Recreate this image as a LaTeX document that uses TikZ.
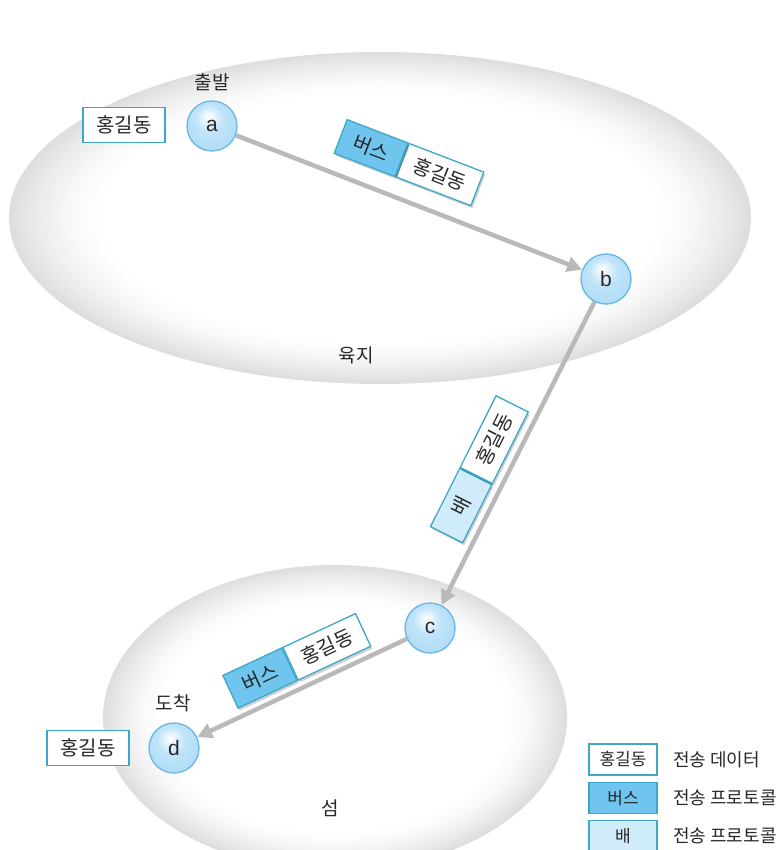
\documentclass[tikz,border=0pt]{standalone}
\usepackage{fontspec}
\setmainfont{Noto Sans CJK KR}
\newfontfamily\latinsans{Liberation Sans}
\usetikzlibrary{arrows.meta,shadows}
\definecolor{boxline}{RGB}{60,168,200}
\definecolor{busfill}{RGB}{112,197,238}
\definecolor{shipfill}{RGB}{208,236,250}
\definecolor{ballout}{RGB}{150,210,245}
\definecolor{ballline}{RGB}{105,182,228}
\definecolor{flowgray}{RGB}{185,185,185}
\definecolor{txt}{RGB}{40,40,40}
\pgfdeclareradialshading{bubble}{\pgfpoint{-4bp}{10bp}}{color(0bp)=(white); color(14bp)=(white!40!ballout); color(50bp)=(ballout)}
\tikzset{
  station/.style={circle, minimum size=50pt, inner sep=0pt, shading=bubble, draw=ballline, line width=1.3pt, font=\latinsans\fontsize{21}{23}\selectfont, text=txt},
  flow/.style={draw=flowgray, line width=4.5pt, -{Triangle[length=15pt,width=15pt]}},
  pshadow/.style={drop shadow={shadow xshift=1.5pt, shadow yshift=-2.5pt, opacity=0.18, fill=black}},
  databox/.style={draw=boxline, line width=1.3pt, fill=white, inner sep=0pt, minimum height=36pt, minimum width=80pt, font=\fontsize{20}{22}\selectfont, text=txt},
  busbox/.style={draw=boxline, line width=1.3pt, fill=busfill, inner sep=0pt, minimum height=36pt, minimum width=65pt, font=\fontsize{20}{22}\selectfont, text=txt},
  shipbox/.style={draw=boxline, line width=1.3pt, fill=shipfill, inner sep=0pt, minimum height=36pt, minimum width=65pt, font=\fontsize{20}{22}\selectfont, text=txt},
  legbox/.style={draw=boxline, line width=1.3pt, inner sep=0pt, minimum height=31pt, minimum width=68pt, font=\fontsize{17}{19}\selectfont, text=txt},
  plain/.style={font=\fontsize{19}{21}\selectfont, text=txt, inner sep=0pt},
}
\begin{document}
\begin{tikzpicture}[x=1pt,y=-1pt]
\useasboundingbox[fill=white] (0,0) rectangle (782,850);
% regions: soft gray glow ellipses
\foreach \i [evaluate=\i as \s using 1-0.0085*\i, evaluate=\i as \g using 13*(1-\i/30)*sqrt(1-\i/30)] in {0,...,30}{
  \fill[black!\g!white] (380,218) ellipse [x radius=\s*371pt, y radius=\s*166pt];
  \fill[black!\g!white] (335,718) ellipse [x radius=\s*232pt, y radius=\s*153pt];
}
\node[plain] (land) at (356,355) {육지};
\node[plain] (isle) at (330,808) {섬};
% stations
\node[station] (a) at (212,126) {a};
\node[station] (b) at (606,279) {b};
\node[station] (c) at (430,628) {c};
\node[station] (d) at (174,748) {d};
\node[plain] (start) at (212,82) {출발};
\node[plain] (arrive) at (173,703) {도착};
\node[databox, minimum width=82pt, minimum height=35pt] (srcdata) at (124,125) {홍길동};
\node[databox, minimum width=82pt, minimum height=35pt] (dstdata) at (88,748) {홍길동};
% flows
\draw[flow] (a) -- (b);
\draw[flow] (b) -- (c);
\draw[flow] (c) -- (d);
% packets
\coordinate (j1) at (402,160);
\node[databox, pshadow, rotate=-21, anchor=west] (p1d) at (j1) {홍길동};
\node[busbox, pshadow, rotate=-21, anchor=east] (p1h) at (j1) {버스};
\coordinate (j2) at (476,476);
\node[shipbox, pshadow, rotate=63.4, anchor=east] (p2h) at (j2) {배};
\node[databox, pshadow, rotate=63.4, anchor=west] (p2d) at (j2) {홍길동};
\coordinate (j3) at (290,664);
\node[busbox, pshadow, rotate=25, anchor=east] (p3h) at (j3) {버스};
\node[databox, pshadow, rotate=25, anchor=west] (p3d) at (j3) {홍길동};
% legend
\node[legbox, fill=white] (l1) at (623,759.5) {홍길동};
\node[legbox, fill=busfill] (l2) at (623,798) {버스};
\node[legbox, fill=shipfill] (l3) at (623,836) {배};
\node[plain, anchor=west, font=\fontsize{18}{20}\selectfont] (t1) at (673,759.5) {전송 데이터};
\node[plain, anchor=west, font=\fontsize{18}{20}\selectfont] (t2) at (673,798) {전송 프로토콜};
\node[plain, anchor=west, font=\fontsize{18}{20}\selectfont] (t3) at (673,836) {전송 프로토콜};
\end{tikzpicture}
\end{document}
